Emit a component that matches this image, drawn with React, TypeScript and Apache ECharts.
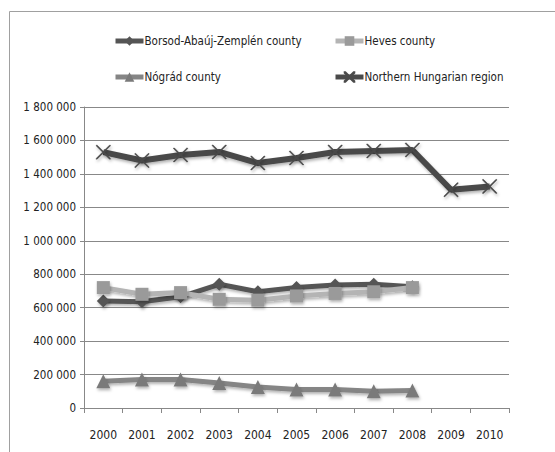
import React, { useEffect, useRef } from "react";
import * as echarts from "echarts";

const years = ["2000", "2001", "2002", "2003", "2004", "2005", "2006", "2007", "2008", "2009", "2010"];
const borsod = [640000, 635000, 665000, 740000, 695000, 720000, 735000, 740000, 725000, null, null];
const heves = [720000, 680000, 690000, 650000, 645000, 670000, 685000, 695000, 720000, null, null];
const nograd = [160000, 170000, 170000, 150000, 125000, 110000, 110000, 100000, 105000, null, null];
const northern = [1530000, 1480000, 1513000, 1531000, 1465000, 1495000, 1531000, 1537000, 1543000, 1305000, 1325000];

const FONT = "'DejaVu Sans Condensed', 'Liberation Sans Narrow', 'Liberation Sans', sans-serif";
const XSYM = "path://M0,0 L10,10 M10,0 L0,10 M0,0 L0.6,0 L10,9.4 L10,10 L9.4,10 L0,0.6 Z M10,0 L10,0.6 L0.6,10 L0,10 L0,9.4 L9.4,0 Z";

function fmt(v: number) {
  return String(v).replace(/\B(?=(\d{3})+(?!\d))/g, " ");
}

export default function App() {
  const ref = useRef<HTMLDivElement>(null);
  useEffect(() => {
    const chart = echarts.init(ref.current!, null, { renderer: "svg" });
    const shadow = { shadowColor: "rgba(0,0,0,0.3)", shadowBlur: 3, shadowOffsetX: 1, shadowOffsetY: 2 };
    const legendCommon = {
      orient: "horizontal" as const,
      itemWidth: 28,
      itemHeight: 12,
      itemGap: 4,
      lineStyle: { width: 5 },
      textStyle: { fontFamily: FONT, fontSize: 11.5, color: "#222", padding: [0, 0, 0, -4] },
    };
    chart.setOption({
      animation: false,
      backgroundColor: "#fff",
      graphic: [
        {
          type: "rect",
          shape: { x: 9.5, y: 11.5, width: 560, height: 460 },
          style: { fill: "none", stroke: "#a0a0a0", lineWidth: 1 },
          silent: true,
        },
      ],
      legend: [
        { ...legendCommon, left: 108, top: 30, data: ["Borsod-Abaúj-Zemplén county"] },
        { ...legendCommon, left: 328, top: 30, data: ["Heves county"] },
        { ...legendCommon, left: 108, top: 66, data: ["Nógrád county"] },
        { ...legendCommon, left: 328, top: 66, data: ["Northern Hungarian region"] },
      ],
      grid: { left: 84, right: 46, top: 107, bottom: 44 },
      xAxis: {
        type: "category",
        data: years,
        boundaryGap: true,
        axisLine: { lineStyle: { color: "#888", width: 1 } },
        axisTick: { show: true, length: 5, lineStyle: { color: "#888" } },
        axisLabel: { fontFamily: FONT, fontSize: 12, color: "#222", margin: 21 },
      },
      yAxis: {
        type: "value",
        min: 0,
        max: 1800000,
        interval: 200000,
        axisLine: { show: true, lineStyle: { color: "#888" } },
        axisTick: { show: true, length: 4, lineStyle: { color: "#888" } },
        splitLine: { lineStyle: { color: "#888", width: 1 } },
        axisLabel: { fontFamily: FONT, fontSize: 11.5, color: "#222", margin: 8, formatter: (v: number) => fmt(v) },
      },
      series: [
        {
          name: "Borsod-Abaúj-Zemplén county",
          type: "line",
          data: borsod,
          symbol: "diamond",
          symbolSize: 13,
          color: "#555555",
          lineStyle: { width: 5, color: "#555555", ...shadow },
          itemStyle: { color: "#555555", ...shadow },
          z: 2,
        },
        {
          name: "Heves county",
          type: "line",
          data: heves,
          symbol: "rect",
          symbolSize: 13,
          color: "#b0b0b0",
          lineStyle: { width: 5, color: "#b4b4b4", ...shadow },
          itemStyle: { color: "#9a9a9a", ...shadow },
          z: 3,
        },
        {
          name: "Nógrád county",
          type: "line",
          data: nograd,
          symbol: "triangle",
          symbolSize: 14,
          color: "#808080",
          lineStyle: { width: 5, color: "#858585", ...shadow },
          itemStyle: { color: "#7a7a7a", ...shadow },
          z: 2,
        },
        {
          name: "Northern Hungarian region",
          type: "line",
          data: northern,
          symbol: XSYM,
          symbolSize: 14,
          color: "#4a4a4a",
          lineStyle: { width: 6, color: "#4a4a4a", ...shadow },
          itemStyle: { color: "#4a4a4a", borderColor: "#4a4a4a", borderWidth: 0.5, ...shadow },
          z: 2,
        },
      ],
    });
    return () => chart.dispose();
  }, []);
  return <div ref={ref} style={{ width: 555, height: 452, position: "absolute", left: 0, top: 0 }} />;
}
